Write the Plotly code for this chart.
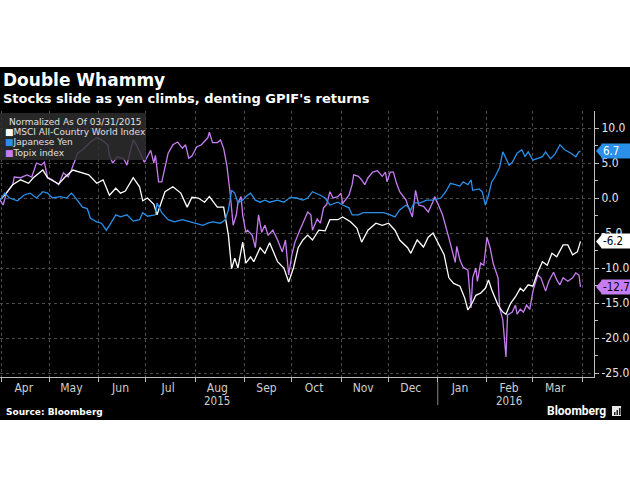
import plotly.graph_objects as go

# ---------------- data (percent change, normalized as of 03/31/2015) ----------------
msci_dates = ["2015-03-31","2015-04-04","2015-04-08","2015-04-13","2015-04-18","2015-04-21","2015-04-27","2015-04-30",
              "2015-05-07","2015-05-11","2015-05-16","2015-05-20","2015-05-26","2015-05-31","2015-06-04","2015-06-08",
              "2015-06-12","2015-06-15","2015-06-18","2015-06-23","2015-06-27","2015-06-29","2015-07-02","2015-07-06",
              "2015-07-08","2015-07-13","2015-07-18","2015-07-23","2015-07-27","2015-07-30","2015-08-03","2015-08-07",
              "2015-08-10","2015-08-15","2015-08-19","2015-08-22","2015-08-24","2015-08-26","2015-08-28","2015-08-31",
              "2015-09-02","2015-09-05","2015-09-07","2015-09-11","2015-09-14","2015-09-17","2015-09-22","2015-09-26",
              "2015-09-29","2015-10-02","2015-10-05","2015-10-08","2015-10-11","2015-10-14","2015-10-18","2015-10-22",
              "2015-10-25","2015-10-30","2015-11-02","2015-11-07","2015-11-11","2015-11-14","2015-11-18","2015-11-23",
              "2015-11-27","2015-12-01","2015-12-05","2015-12-08","2015-12-13","2015-12-15","2015-12-19","2015-12-23",
              "2015-12-26","2015-12-29","2016-01-01","2016-01-05","2016-01-08","2016-01-11","2016-01-15","2016-01-18",
              "2016-01-20","2016-01-23","2016-01-25","2016-01-28","2016-01-31","2016-02-02","2016-02-04","2016-02-08",
              "2016-02-11","2016-02-13","2016-02-16","2016-02-19","2016-02-22","2016-02-24","2016-02-27","2016-03-01",
              "2016-03-04","2016-03-07","2016-03-10","2016-03-13","2016-03-16","2016-03-20","2016-03-23","2016-03-26",
              "2016-03-29","2016-03-31"]
msci_vals = [-0.3, 0.7, 1.9, 2.6, 2.1, 2.9, 4.0, 2.9,
             2.0, 3.0, 4.0, 3.7, 3.3, 2.1, 2.6, 0.4,
             1.4, 0.7, 1.0, 2.9, 1.6, -0.4, 0.0, -0.9,
             -2.4, 0.9, 1.6, 0.7, -1.3, 0.1, 0.0, -0.6,
             0.2, -1.3, -1.3, -5.3, -10.1, -8.6, -10.0, -6.3,
             -9.3, -8.4, -9.1, -7.1, -7.9, -6.4, -9.1, -10.0,
             -12.0, -10.0, -7.1, -6.0, -5.3, -6.0, -4.6, -4.7,
             -3.1, -3.1, -2.7, -3.4, -4.3, -6.3, -4.6, -3.6,
             -3.9, -3.6, -4.6, -6.0, -7.1, -7.9, -6.0, -7.0,
             -5.6, -5.0, -6.4, -8.1, -11.4, -12.2, -12.6, -14.3,
             -16.0, -14.9, -13.9, -13.6, -12.9, -11.7, -13.1, -15.3,
             -16.3, -16.6, -15.0, -14.1, -12.9, -13.3, -12.4, -12.6,
             -10.6, -9.1, -9.6, -7.9, -8.4, -6.7, -6.7, -8.1,
             -7.7, -6.2]

yen_dates = ["2015-03-31","2015-04-03","2015-04-06","2015-04-11","2015-04-15","2015-04-19","2015-04-23","2015-04-27",
             "2015-04-30","2015-05-03","2015-05-08","2015-05-12","2015-05-15","2015-05-17","2015-05-22","2015-05-25",
             "2015-05-27","2015-05-31","2015-06-03","2015-06-06","2015-06-08","2015-06-12","2015-06-15","2015-06-19",
             "2015-06-23","2015-06-27","2015-06-29","2015-07-02","2015-07-07","2015-07-08","2015-07-11","2015-07-15",
             "2015-07-19","2015-07-24","2015-07-29","2015-08-02","2015-08-06","2015-08-09","2015-08-12","2015-08-17",
             "2015-08-20","2015-08-22","2015-08-24","2015-08-26","2015-08-28","2015-08-31","2015-09-03","2015-09-05",
             "2015-09-08","2015-09-11","2015-09-14","2015-09-17","2015-09-22","2015-09-26","2015-09-30","2015-10-04",
             "2015-10-08","2015-10-11","2015-10-14","2015-10-19","2015-10-22","2015-10-25","2015-10-30","2015-11-02",
             "2015-11-06","2015-11-08","2015-11-12","2015-11-15","2015-11-19","2015-11-24","2015-11-28","2015-12-02",
             "2015-12-05","2015-12-08","2015-12-12","2015-12-15","2015-12-17","2015-12-21","2015-12-25","2015-12-29",
             "2016-01-03","2016-01-06","2016-01-09","2016-01-12","2016-01-15","2016-01-17","2016-01-20","2016-01-22",
             "2016-01-23","2016-01-27","2016-01-29","2016-01-31","2016-02-02","2016-02-04","2016-02-06","2016-02-09",
             "2016-02-11","2016-02-15","2016-02-17","2016-02-20","2016-02-23","2016-02-25","2016-02-27","2016-03-01",
             "2016-03-04","2016-03-07","2016-03-09","2016-03-12","2016-03-15","2016-03-18","2016-03-21","2016-03-25",
             "2016-03-28","2016-03-30","2016-03-31"]
yen_vals = [-0.3, 0.7, 0.0, -0.4, 0.4, 0.7, 0.0, 0.9,
            0.7, 0.0, 0.2, 0.0, 0.7, 0.2, -1.3, -1.5,
            -2.9, -3.4, -3.6, -4.6, -3.9, -2.4, -2.7, -2.4,
            -3.3, -3.1, -2.1, -2.6, -2.4, -0.7, -2.1, -3.1,
            -3.4, -3.1, -3.4, -3.6, -3.9, -3.6, -3.4, -3.6,
            -3.1, -1.7, 1.1, 0.7, -0.7, -0.3, 0.4, 0.7,
            -0.3, -0.6, -0.3, -0.6, -0.3, -0.6, 0.1, 0.0,
            -0.3, 0.0, 0.9, 0.4, 0.0, -1.0, -0.6, -1.0,
            -1.4, -2.4, -2.4, -2.1, -2.1, -2.0, -2.1, -2.4,
            -2.7, -1.7, -1.0, -1.7, -0.7, -0.7, -0.3, -0.3,
            0.0, 0.9, 2.1, 1.9, 1.7, 2.3, 1.9, 2.6,
            1.1, 1.3, 0.9, -1.0, 0.4, 2.3, 3.0, 4.4,
            6.6, 4.7, 5.1, 6.4, 6.9, 5.9, 6.6, 5.4,
            5.6, 5.9, 6.6, 5.6, 6.3, 7.6, 6.9, 6.4,
            5.9, 6.6, 6.7]

topix_dates = ["2015-03-31","2015-04-02","2015-04-04","2015-04-08","2015-04-09","2015-04-13","2015-04-17","2015-04-20",
               "2015-04-23","2015-04-26","2015-04-28","2015-04-30","2015-05-03","2015-05-07","2015-05-10","2015-05-13",
               "2015-05-15","2015-05-17","2015-05-19","2015-05-22","2015-05-27","2015-05-31","2015-06-03","2015-06-07",
               "2015-06-08","2015-06-10","2015-06-13","2015-06-17","2015-06-19","2015-06-21","2015-06-23","2015-06-25",
               "2015-06-29","2015-06-30","2015-07-04","2015-07-06","2015-07-07","2015-07-09","2015-07-11","2015-07-13",
               "2015-07-15","2015-07-18","2015-07-21","2015-07-24","2015-07-26","2015-07-28","2015-07-30","2015-08-02",
               "2015-08-05","2015-08-09","2015-08-10","2015-08-12","2015-08-15","2015-08-17","2015-08-19","2015-08-21",
               "2015-08-23","2015-08-25","2015-08-27","2015-08-28","2015-08-30","2015-08-31","2015-09-02","2015-09-03",
               "2015-09-06","2015-09-08","2015-09-10","2015-09-12","2015-09-14","2015-09-16","2015-09-19","2015-09-22",
               "2015-09-25","2015-09-27","2015-09-29","2015-10-01","2015-10-03","2015-10-06","2015-10-08","2015-10-11",
               "2015-10-13","2015-10-14","2015-10-17","2015-10-19","2015-10-21","2015-10-23","2015-10-25","2015-10-27",
               "2015-10-30","2015-11-01","2015-11-02","2015-11-06","2015-11-08","2015-11-09","2015-11-12","2015-11-14",
               "2015-11-16","2015-11-18","2015-11-21","2015-11-24","2015-11-27","2015-11-29","2015-11-30","2015-12-02",
               "2015-12-04","2015-12-06","2015-12-08","2015-12-12","2015-12-13","2015-12-16","2015-12-18","2015-12-20",
               "2015-12-23","2015-12-26","2015-12-29","2015-12-30","2016-01-01","2016-01-04","2016-01-08","2016-01-10",
               "2016-01-12","2016-01-13","2016-01-15","2016-01-17","2016-01-20","2016-01-22","2016-01-23","2016-01-25",
               "2016-01-26","2016-01-28","2016-01-30","2016-02-01","2016-02-03","2016-02-05","2016-02-08","2016-02-09",
               "2016-02-11","2016-02-13","2016-02-14","2016-02-17","2016-02-19","2016-02-20","2016-02-22","2016-02-24",
               "2016-02-26","2016-02-28","2016-03-01","2016-03-04","2016-03-06","2016-03-09","2016-03-11","2016-03-14",
               "2016-03-16","2016-03-18","2016-03-20","2016-03-23","2016-03-26","2016-03-28","2016-03-30","2016-03-31"]
topix_vals = [-0.3, -1.0, 0.7, 1.9, 3.0, 2.9, 3.3, 3.0,
              5.0, 4.7, 5.1, 2.9, 2.6, 1.9, 3.6, 3.0,
              4.0, 5.1, 6.4, 6.9, 8.0, 8.6, 8.3, 7.6,
              6.1, 5.0, 5.9, 5.6, 4.7, 6.6, 8.3, 7.6,
              5.7, 5.1, 6.8, 5.0, 6.1, 2.3, 2.3, 4.4,
              6.4, 7.6, 8.0, 7.1, 7.6, 5.7, 6.0, 7.3,
              7.6, 8.6, 9.4, 7.9, 7.9, 8.3, 7.1, 4.7,
              0.9, -3.9, -2.4, -0.7, 0.2, -2.4, -4.9, -4.6,
              -5.3, -7.1, -2.4, -4.9, -3.9, -5.3, -4.6, -6.0,
              -7.7, -6.0, -11.0, -8.1, -6.3, -4.6, -3.6, -2.0,
              -2.4, -4.6, -3.0, -3.6, -1.4, -0.9, 0.9, 0.0,
              0.2, 0.7, -0.8, 0.4, 1.9, 3.3, 3.1, 2.6,
              1.9, 2.9, 3.7, 3.9, 3.1, 3.7, 2.3, 3.7,
              3.7, 2.1, 0.9, -0.3, -1.0, -2.7, 1.1, -1.0,
              -1.2, -2.0, -0.5, 0.2, -0.8, -2.4, -5.7, -7.4,
              -9.2, -6.9, -8.9, -9.9, -10.3, -15.7, -11.4, -10.0,
              -11.9, -9.3, -9.6, -5.6, -7.1, -9.4, -11.4, -15.7,
              -17.4, -22.7, -16.7, -16.3, -15.3, -16.6, -15.9, -16.3,
              -15.3, -15.9, -13.3, -11.0, -11.4, -13.3, -11.9, -10.6,
              -11.7, -12.4, -11.4, -11.9, -11.4, -10.7, -11.0, -12.7]

series_names = ["MSCI All-Country World Index", "Japanese Yen", "Topix index"]
series_colors = ["#ffffff", "#2a8fe8", "#c77df2"]
tag_text_colors = ["#000000", "#ffffff", "#000000"]

month_labels = ["Apr", "May", "Jun", "Jul", "Aug", "Sep", "Oct", "Nov", "Dec", "Jan", "Feb", "Mar"]
month_mids = ["2015-04-15", "2015-05-15", "2015-06-15", "2015-07-15", "2015-08-15", "2015-09-15",
              "2015-10-15", "2015-11-15", "2015-12-15", "2016-01-15", "2016-02-15", "2016-03-15"]
year_labels = ["2015", "2016"]
year_positions = ["2015-08-15", "2016-02-15"]
year_break = "2016-01-01"

y_ticks = [10, 5, 0, -5, -10, -15, -20, -25]
y_tick_labels = ["10.0", "5.0", "0.0", "-5.0", "-10.0", "-15.0", "-20.0", "-25.0"]

# ---------------- figure ----------------
FONT = "Liberation Sans Narrow, DejaVu Sans Condensed, Arial Narrow, Roboto, sans-serif"
LEGFONT = "DejaVu Sans, Verdana, sans-serif"
BOLD = "DejaVu Sans, Verdana, sans-serif"
GRID = "#4a4a4a"
AX = "#bdbdbd"

W, H = 630, 490
L, R, T, B = 0, 36, 111, 113
PW, PH = W - L - R, H - T - B


def px(x):
    return (x - L) / PW


def py(y):
    return (H - B - y) / PH


fig = go.Figure()
all_dates = [msci_dates, yen_dates, topix_dates]
all_vals = [msci_vals, yen_vals, topix_vals]
draw_order = [2, 0, 1]
for i in draw_order:
    fig.add_trace(go.Scatter(x=all_dates[i], y=all_vals[i], mode="lines", name=series_names[i],
                             line=dict(color=series_colors[i], width=1.3), showlegend=False,
                             hoverinfo="skip"))

shapes = []
annotations = []

# black panel
shapes.append(dict(type="rect", xref="paper", yref="paper", x0=px(0), x1=px(W), y0=py(420), y1=py(67),
                   fillcolor="#000000", line=dict(width=0), layer="below"))

# legend panel
shapes.append(dict(type="rect", xref="paper", yref="paper", x0=px(0), x1=px(146), y0=py(160), y1=py(113),
                   fillcolor="rgba(48,48,48,0.82)", line=dict(width=0), layer="above"))
annotations.append(dict(xref="paper", yref="paper", x=px(7), y=py(122), xanchor="left", yanchor="middle",
                        text="Normalized As Of 03/31/2015", showarrow=False,
                        font=dict(family=LEGFONT, size=9, color="#e0e0e0")))
for k, i in enumerate([0, 1, 2]):
    annotations.append(dict(xref="paper", yref="paper", x=px(3), y=py(132 + 10.3 * k), xanchor="left",
                            yanchor="middle", showarrow=False,
                            text=f"<span style='color:{series_colors[i]}'>■</span>{series_names[i]}",
                            font=dict(family=LEGFONT, size=9, color="#e0e0e0")))

# end-of-line value tags
for i in range(3):
    last = all_vals[i][-1]
    shapes.append(dict(type="path", xref="paper", yref="y", xsizemode="pixel", ysizemode="pixel",
                       xanchor=1, yanchor=last, path="M 2,0 L 8,7 L 8,-7 Z",
                       fillcolor=series_colors[i], line=dict(width=0), layer="above"))
    annotations.append(dict(xref="paper", yref="y", x=1, y=last, xanchor="left", yanchor="middle",
                            xshift=7, text=f"{last:.1f}", showarrow=False, align="left",
                            width=27, height=12, borderpad=1, bgcolor=series_colors[i],
                            font=dict(family=FONT, size=11.5, color=tag_text_colors[i])))

# year labels and separator
for lab, pos in zip(year_labels, year_positions):
    annotations.append(dict(xref="x", yref="paper", x=pos, y=py(401), xanchor="center", yanchor="middle",
                            text=lab, showarrow=False, font=dict(family=FONT, size=11.5, color="#cfcfcf")))
shapes.append(dict(type="line", xref="x", yref="paper", x0=year_break, x1=year_break,
                   y0=py(382), y1=py(405), line=dict(color="#8a8a8a", width=1)))

# titles
annotations.append(dict(xref="paper", yref="paper", x=px(1), y=py(80), xanchor="left", yanchor="middle",
                        text="<b>Double Whammy</b>", showarrow=False,
                        font=dict(family=BOLD, size=17, color="#ffffff")))
annotations.append(dict(xref="paper", yref="paper", x=px(1), y=py(99), xanchor="left", yanchor="middle",
                        text="<b>Stocks slide as yen climbs, denting GPIF's returns</b>", showarrow=False,
                        font=dict(family=BOLD, size=13, color="#ffffff")))

# footer
annotations.append(dict(xref="paper", yref="paper", x=px(4), y=py(412), xanchor="left", yanchor="middle",
                        text="<b>Source: Bloomberg</b>", showarrow=False,
                        font=dict(family=BOLD, size=9, color="#ffffff")))
annotations.append(dict(xref="paper", yref="paper", x=px(608), y=py(411), xanchor="right", yanchor="middle",
                        text="<b>Bloomberg</b>", showarrow=False,
                        font=dict(family="Roboto, DejaVu Sans, sans-serif", size=12, color="#ffffff")))
shapes.append(dict(type="rect", xref="paper", yref="paper", x0=px(612), x1=px(621), y0=py(416), y1=py(406),
                   fillcolor="#e8e8e8", line=dict(width=0), layer="above"))
for bx, top in [(614, 412), (616.5, 410), (619, 408)]:
    shapes.append(dict(type="rect", xref="paper", yref="paper", x0=px(bx), x1=px(bx + 1.5), y0=py(415),
                       y1=py(top), fillcolor="#222222", line=dict(width=0), layer="above"))

fig.update_layout(
    width=W, height=H,
    margin=dict(l=L, r=R, t=T, b=B, pad=0),
    paper_bgcolor="#ffffff", plot_bgcolor="#000000",
    shapes=shapes, annotations=annotations,
    showlegend=False,
    xaxis=dict(type="date", range=["2015-03-31", "2016-04-08 12:00"],
               tickmode="array", tickvals=month_mids, ticktext=month_labels, ticks="",
               showgrid=False, zeroline=False,
               showline=True, linecolor=AX, linewidth=1,
               tickfont=dict(family=FONT, size=12, color="#cfcfcf"),
               minor=dict(tick0="2015-04-01", dtick="M1", ticks="outside", ticklen=4, tickcolor=AX,
                          showgrid=True, gridcolor=GRID, griddash="dot", gridwidth=1),
               fixedrange=True),
    yaxis=dict(side="right", range=[-25.57, 12.43], tickmode="array", tickvals=y_ticks,
               ticktext=y_tick_labels, ticks="outside", ticklen=4, tickcolor=AX,
               showgrid=True, gridcolor=GRID, griddash="dot", gridwidth=1, zeroline=False,
               showline=True, linecolor=AX, linewidth=1,
               tickfont=dict(family=FONT, size=12, color="#e6e6e6"),
               minor=dict(dtick=2.5, tick0=0, ticks="outside", ticklen=3, tickcolor=AX, showgrid=False),
               fixedrange=True),
)

fig.write_html("out.html", config={"displayModeBar": False},
               post_script="document.body.style.margin='0';document.body.style.overflow='hidden';")
